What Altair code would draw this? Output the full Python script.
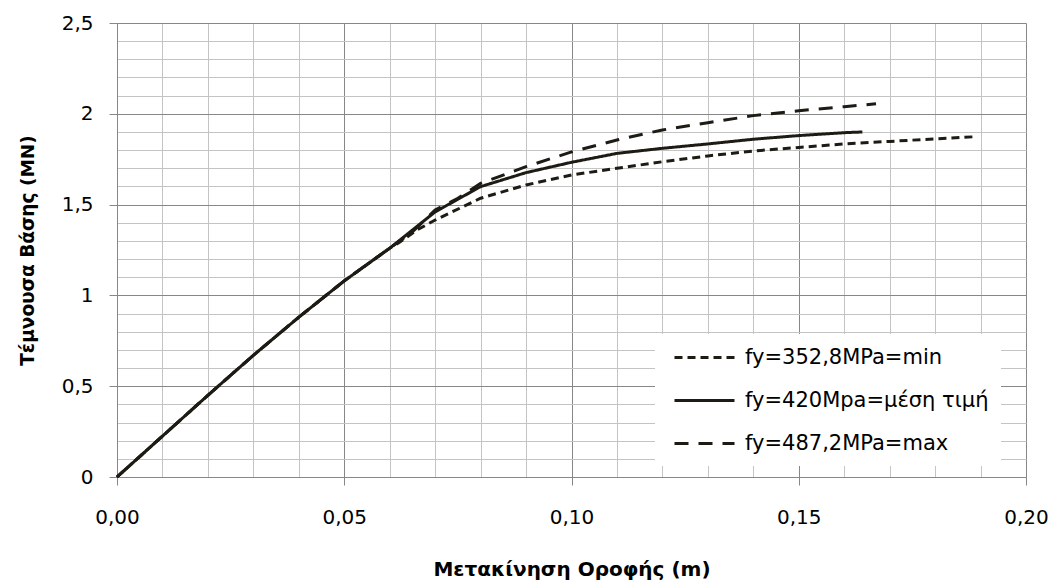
import altair as alt
import pandas as pd

# Shared elastic branch (all three analyses coincide here)
x_elastic = [0.0, 0.01, 0.02, 0.03, 0.04, 0.05, 0.06]
v_elastic = [0.0, 0.225, 0.45, 0.67, 0.88, 1.08, 1.26]

# fy = 352,8 MPa (min)
x_min = [0.062, 0.066, 0.07, 0.08, 0.09, 0.10, 0.11, 0.12, 0.13, 0.14, 0.15, 0.16, 0.17, 0.18, 0.189]
v_min = [1.29, 1.36, 1.415, 1.535, 1.608, 1.663, 1.70, 1.736, 1.768, 1.795, 1.815, 1.834, 1.848, 1.862, 1.874]

# fy = 420 MPa (mean)
x_mean = [0.07, 0.08, 0.09, 0.10, 0.11, 0.12, 0.13, 0.14, 0.15, 0.16, 0.164]
v_mean = [1.46, 1.599, 1.676, 1.733, 1.782, 1.81, 1.834, 1.86, 1.88, 1.896, 1.90]

# fy = 487,2 MPa (max)
x_max = [0.065, 0.07, 0.075, 0.08, 0.09, 0.10, 0.11, 0.12, 0.13, 0.14, 0.15, 0.16, 0.167]
v_max = [1.35, 1.47, 1.535, 1.617, 1.709, 1.79, 1.856, 1.911, 1.951, 1.99, 2.017, 2.039, 2.055]

series_names = ["fy=352,8MPa=min", "fy=420Mpa=μέση τιμή", "fy=487,2MPa=max"]
series_dash = [[8, 5], [1, 0], [14, 10]]

x_ticks = [round(i * 0.01, 2) for i in range(21)]
y_ticks = [round(i * 0.1, 1) for i in range(26)]

rows = []
for name, xs, vs in zip(series_names, [x_min, x_mean, x_max], [v_min, v_mean, v_max]):
    for x, v in zip(x_elastic + xs, v_elastic + vs):
        rows.append({"series": name, "disp": x, "shear": v})
df = pd.DataFrame(rows)

FONT = "DejaVu Sans"
INK = "#1d1b14"
MAJOR = "#878787"
MINOR = "#c4c4c4"

x_axis = alt.Axis(
    title="Μετακίνηση Οροφής (m)",
    values=x_ticks,
    grid=True,
    gridColor={"condition": {"test": "round(datum.value*100) % 5 === 0", "value": MAJOR}, "value": MINOR},
    gridWidth=1,
    tickSize={"condition": {"test": "round(datum.value*100) % 5 === 0", "value": 8}, "value": 0},
    tickColor=MAJOR,
    domainColor=MAJOR,
    labelExpr="round(datum.value*100) % 5 === 0 ? replace(format(datum.value, '.2f'), '.', ',') : ''",
    labelFlush=False,
    labelOverlap=False,
    labelPadding=22,
    labelFont=FONT,
    labelFontSize=20,
    labelColor="#000000",
    titleFont=FONT,
    titleFontSize=20,
    titleFontWeight="bold",
    titleColor="#000000",
    titleX=454.5,
    titleY=92,
    titleBaseline="middle",
    titleAlign="center",
)

y_axis = alt.Axis(
    title="Τέμνουσα Βάσης (MN)",
    values=y_ticks,
    grid=True,
    gridColor={"condition": {"test": "round(datum.value*10) % 5 === 0", "value": MAJOR}, "value": MINOR},
    gridWidth=1,
    tickSize={"condition": {"test": "round(datum.value*10) % 5 === 0", "value": 8}, "value": 0},
    tickColor=MAJOR,
    domainColor=MAJOR,
    labelExpr="round(datum.value*10) % 5 === 0 ? replace(format(datum.value, '.1~f'), '.', ',') : ''",
    labelFlush=False,
    labelOverlap=False,
    labelPadding=16,
    labelFont=FONT,
    labelFontSize=20,
    labelColor="#000000",
    titleFont=FONT,
    titleFontSize=18.5,
    titleFontWeight="bold",
    titleColor="#000000",
    titleAngle=270,
    titleX=-90,
    titleY=227,
    titleBaseline="middle",
    titleAlign="center",
)

# a long horizontal stroke as the legend swatch, so the row height stays compact
legend = alt.Legend(
    title=None,
    orient="none",
    legendX=538,
    legendY=311,
    fillColor="white",
    padding=12,
    symbolType="M-3,0H3",
    symbolSize=400,
    symbolOffset=26,
    symbolStrokeWidth=3,
    symbolStrokeColor=INK,
    symbolFillColor="transparent",
    labelFont=FONT,
    labelFontSize=21,
    labelColor="#000000",
    labelOffset=29,
    rowPadding=21,
    labelLimit=400,
)

chart = (
    alt.Chart(df)
    .mark_line(strokeWidth=3, color=INK)
    .encode(
        x=alt.X("disp:Q", scale=alt.Scale(domain=[0, 0.2], nice=False, zero=False), axis=x_axis),
        y=alt.Y("shear:Q", scale=alt.Scale(domain=[0, 2.5], nice=False), axis=y_axis),
        strokeDash=alt.StrokeDash(
            "series:N",
            scale=alt.Scale(domain=series_names, range=series_dash),
            legend=legend,
            sort=series_names,
        ),
        order="disp:Q",
    )
    .properties(
        width=909,
        height=454,
        padding={"left": 117, "top": 23, "right": 30, "bottom": 108},
        autosize=alt.AutoSizeParams(type="none"),
        background="white",
    )
    .configure_view(stroke=None)
)

chart.save("out.html", embed_options={"renderer": "svg", "actions": False})
